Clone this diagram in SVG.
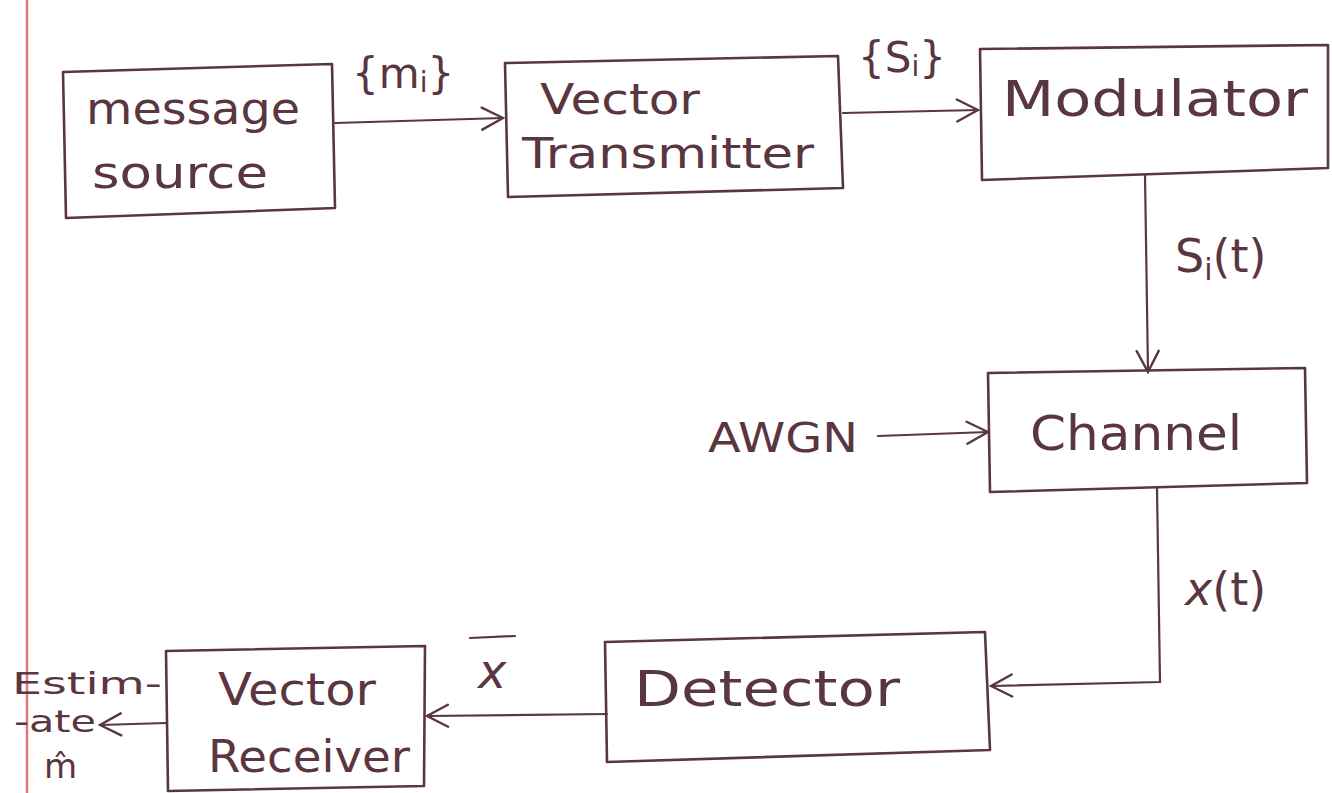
<svg xmlns="http://www.w3.org/2000/svg" width="1332" height="793" viewBox="0 0 1332 793">
<defs>
<style>
.box{fill:none;stroke:#5a3640;stroke-width:2.6;stroke-linejoin:round}
.ln{fill:none;stroke:#5a3640;stroke-width:2.2;stroke-linecap:round}
.t{font-family:"DejaVu Sans","Liberation Sans",sans-serif;fill:#5a3640;font-weight:normal}
.lbl{font-family:"DejaVu Sans","Liberation Sans",sans-serif;fill:#5a3640}
</style>
<marker id="ah" viewBox="0 0 26 26" refX="24" refY="13" markerWidth="26" markerHeight="26" markerUnits="userSpaceOnUse" orient="auto">
<path d="M3,2 L24,13 L3,24" fill="none" stroke="#5a3640" stroke-width="2.4" stroke-linecap="round"/>
</marker>
</defs>
<rect width="1332" height="793" fill="#ffffff"/>
<line x1="27" y1="0" x2="27" y2="793" stroke="#e8737f" stroke-width="2.5"/>

<g id="message-source">
<path class="box" d="M63,72 L332,64 L335,208 L66,218 Z"/>
<text class="t" x="86" y="124" font-size="44" textLength="214" lengthAdjust="spacingAndGlyphs">message</text>
<text class="t" x="92" y="188" font-size="44" textLength="176" lengthAdjust="spacingAndGlyphs">source</text>
</g>

<g id="vector-transmitter">
<path class="box" d="M505,63 L838,56 L843,188 L508,197 Z"/>
<text class="t" x="540" y="114" font-size="42" textLength="160" lengthAdjust="spacingAndGlyphs">Vector</text>
<text class="t" x="522" y="168" font-size="42" textLength="292" lengthAdjust="spacingAndGlyphs">Transmitter</text>
</g>

<g id="modulator">
<path class="box" d="M980,49 L1328,45 L1328,168 L982,180 Z"/>
<text class="t" x="1002" y="116" font-size="50" textLength="306" lengthAdjust="spacingAndGlyphs">Modulator</text>
</g>

<g id="channel">
<path class="box" d="M988,373 L1305,368 L1307,483 L990,492 Z"/>
<text class="t" x="1030" y="450" font-size="48" textLength="212" lengthAdjust="spacingAndGlyphs">Channel</text>
</g>

<g id="detector">
<path class="box" d="M605,642 L985,632 L990,750 L607,762 Z"/>
<text class="t" x="634" y="706" font-size="50" textLength="266" lengthAdjust="spacingAndGlyphs">Detector</text>
</g>

<g id="vector-receiver">
<path class="box" d="M166,651 L425,646 L424,786 L168,791 Z"/>
<text class="t" x="218" y="705" font-size="44" textLength="158" lengthAdjust="spacingAndGlyphs">Vector</text>
<text class="t" x="208" y="772" font-size="44" textLength="202" lengthAdjust="spacingAndGlyphs">Receiver</text>
</g>

<g id="awgn">
<text class="t" x="708" y="452" font-size="40" textLength="150" lengthAdjust="spacingAndGlyphs">AWGN</text>
</g>

<g id="estimate">
<text class="t" x="12" y="694" font-size="31" textLength="150" lengthAdjust="spacingAndGlyphs">Estim-</text>
<text class="t" x="14" y="732" font-size="31" textLength="82" lengthAdjust="spacingAndGlyphs">-ate</text>
<text class="t" x="44" y="778" font-size="34">m̂</text>
</g>

<g id="connectors">
<path class="ln" d="M335,123 L503,118" marker-end="url(#ah)"/>
<path class="ln" d="M843,113 L978,110" marker-end="url(#ah)"/>
<path class="ln" d="M1145,175 L1148,372" marker-end="url(#ah)"/>
<path class="ln" d="M878,436 L988,432" marker-end="url(#ah)"/>
<path class="ln" d="M1157,488 L1160,682 L991,686" marker-end="url(#ah)"/>
<path class="ln" d="M607,714 L427,716" marker-end="url(#ah)"/>
<path class="ln" d="M166,723 L100,725" marker-end="url(#ah)"/>
</g>

<g id="labels">
<text class="lbl" x="352" y="88" font-size="42">{m<tspan font-size="28" dy="4">i</tspan><tspan dy="-4">}</tspan></text>
<text class="lbl" x="858" y="72" font-size="42">{S<tspan font-size="28" dy="4">i</tspan><tspan dy="-4">}</tspan></text>
<text class="lbl" x="1175" y="272" font-size="46">S<tspan font-size="30" dy="8">i</tspan><tspan dy="-8">(t)</tspan></text>
<text class="lbl" x="1185" y="605" font-size="46" font-style="italic">x<tspan font-style="normal">(t)</tspan></text>
<text class="lbl" x="478" y="688" font-size="48" font-style="italic">x</text>
<line class="ln" x1="470" y1="638" x2="515" y2="636"/>
</g>
</svg>
